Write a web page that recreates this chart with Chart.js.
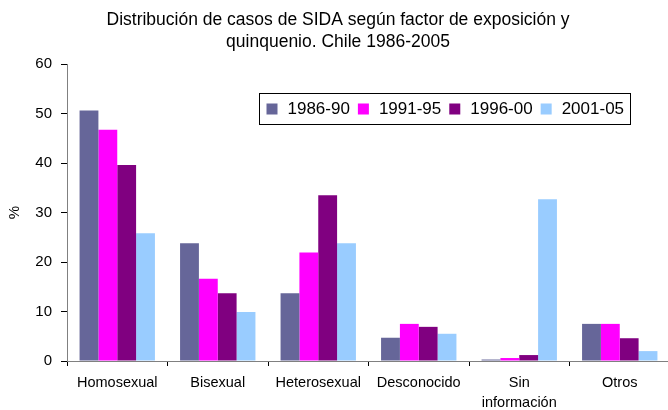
<!DOCTYPE html>
<html>
<head>
<meta charset="utf-8">
<script src="https://cdn.jsdelivr.net/npm/chart.js@4"></script>
<style>
    body { margin: 0; overflow: hidden; background: #fff; }
    #wrap { width: 672px; height: 410px; }
</style>
</head>
<body>
<div id="wrap"><canvas id="myChart" width="672" height="410"></canvas></div>
<script>
// datos del grafico
var categorias = ["Homosexual", "Bisexual", "Heterosexual", "Desconocido", ["Sin", "información"], "Otros"];
var periodos = ["1986-90", "1991-95", "1996-00", "2001-05"];
var valores1986 = [50.6, 23.8, 13.7, 4.7, 0.3, 7.5];
var valores1991 = [46.7, 16.6, 21.9, 7.5, 0.6, 7.5];
var valores1996 = [39.6, 13.7, 33.5, 6.9, 1.2, 4.6];
var valores2001 = [25.8, 9.9, 23.8, 5.5, 32.7, 2.0];
var yTicks = [0, 10, 20, 30, 40, 50, 60];

var barColors = ["#666699", "#FF00FF", "#800080", "#99CCFF"];
var fuente = "'Liberation Sans', Arial, sans-serif";

// leyenda con recuadro dentro del area del grafico
var leyendaCaja = {
    id: "leyendaCaja",
    afterDraw: function (chart) {
        var ctx = chart.ctx;
        var bx = 259.5, by = 93.5, bw = 371, bh = 31;
        var midY = by + bh / 2;
        ctx.save();
        ctx.strokeStyle = "#000";
        ctx.lineWidth = 1;
        ctx.strokeRect(bx, by, bw, bh);
        ctx.font = "17px " + fuente;
        ctx.textBaseline = "middle";
        ctx.textAlign = "left";
        var x = bx + 7;
        chart.data.datasets.forEach(function (ds) {
            ctx.fillStyle = ds.backgroundColor;
            ctx.fillRect(x, midY - 5.5, 11, 11);
            x += 11 + 10;
            ctx.fillStyle = "#000";
            ctx.fillText(ds.label, x, midY);
            x += ctx.measureText(ds.label).width + 8;
        });
        ctx.restore();
    }
};

var series = [valores1986, valores1991, valores1996, valores2001];

new Chart("myChart", {
    type: "bar",
    data: {
        labels: categorias,
        datasets: series.map(function (vals, i) {
            return {
                label: periodos[i],
                data: vals,
                backgroundColor: barColors[i],
                borderWidth: 0,
                categoryPercentage: 0.75,
                barPercentage: 1.0
            };
        })
    },
    options: {
        responsive: false,
        animation: false,
        devicePixelRatio: 1,
        layout: { padding: { left: 6, right: 2, top: 0, bottom: 0 } },
        plugins: {
            legend: { display: false },
            tooltip: { enabled: false },
            title: {
                display: true,
                text: ["Distribución de casos de SIDA según factor de exposición y", "quinquenio. Chile 1986-2005"],
                color: "#000",
                font: { family: fuente, size: 17.5, weight: "normal", lineHeight: 22 / 17.5 },
                padding: { top: 9, bottom: 11 }
            }
        },
        scales: {
            x: {
                offset: true,
                grid: {
                    offset: true,
                    drawOnChartArea: false,
                    drawTicks: true,
                    tickLength: 5,
                    color: "#000"
                },
                border: { color: "#808080", width: 1 },
                ticks: {
                    color: "#000",
                    padding: 7,
                    maxRotation: 0,
                    autoSkip: false,
                    font: { family: fuente, size: 14.5, lineHeight: 20 / 14.5 }
                },
                afterFit: function (scale) { scale.height = 49; }
            },
            y: {
                min: 0,
                max: 60,
                afterBuildTicks: function (scale) {
                    scale.ticks = yTicks.map(function (v) { return { value: v }; });
                },
                grid: {
                    drawOnChartArea: false,
                    drawTicks: true,
                    tickLength: 6,
                    color: "#000"
                },
                border: { color: "#808080", width: 1 },
                ticks: {
                    color: "#000",
                    padding: 9,
                    font: { family: fuente, size: 15 }
                },
                title: {
                    display: true,
                    text: "%",
                    color: "#000",
                    padding: 0,
                    font: { family: fuente, size: 15 }
                },
                afterFit: function (scale) { scale.width = 61; }
            }
        }
    },
    plugins: [leyendaCaja]
});
</script>
</body>
</html>
